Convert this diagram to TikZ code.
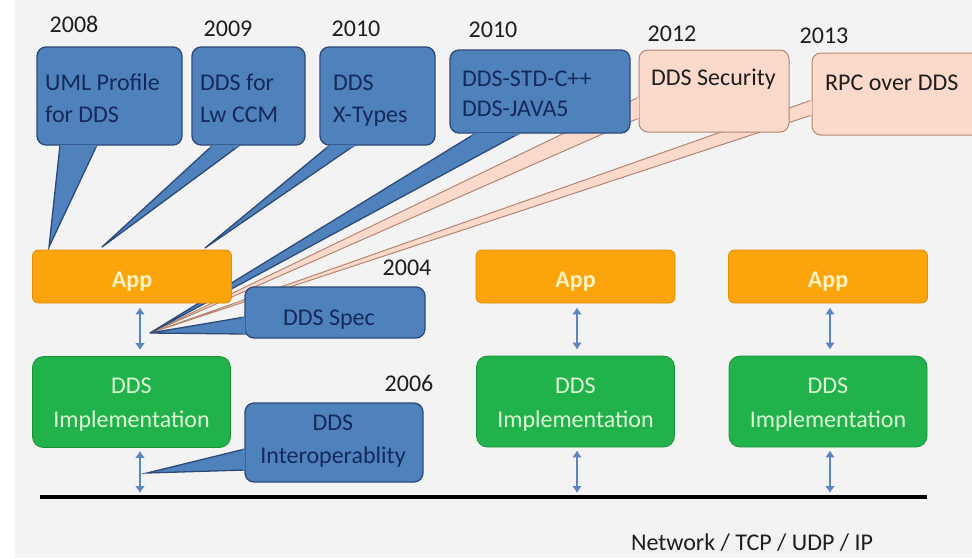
\documentclass[tikz,border=0pt]{standalone}
\usepackage{fontspec}
\setmainfont{Carlito}
\usetikzlibrary{calc,arrows.meta}

\definecolor{cBlue}{HTML}{4F81BD}
\definecolor{cBlueD}{HTML}{2C4A78}
\definecolor{cNavy}{HTML}{15295A}
\definecolor{cPink}{HTML}{FCDACB}
\definecolor{cPinkD}{HTML}{B58570}
\definecolor{cOrange}{HTML}{FBA40C}
\definecolor{cOrangeD}{HTML}{E08C00}
\definecolor{cAppTxt}{HTML}{FFF3C4}
\definecolor{cGreen}{HTML}{22B24C}
\definecolor{cGreenD}{HTML}{179038}
\definecolor{cImplTxt}{HTML}{DDF7D6}
\definecolor{cArrow}{HTML}{5A86C0}
\definecolor{cBg}{HTML}{F3F3F3}
\definecolor{cText}{HTML}{1E1E1E}

% refill a callout pointer over the border of its own box
\newcommand\wedgepatch[5]{%
  \begin{scope}
    \clip ($(#1.south west)+(-2,2)$) rectangle ($(#1.north east)+(2,-2)$);
    \fill[#2] (#3) -- (#4) -- (#5) -- cycle;
  \end{scope}}

\begin{document}
\begin{tikzpicture}[x=1pt,y=-1pt,
  font=\fontsize{24}{29}\selectfont,
  bluebox/.style={draw=cBlueD, fill=cBlue, line width=1.3pt, rounded corners=9pt, inner sep=0pt},
  pinkbox/.style={draw=cPinkD, fill=cPink, line width=1pt, rounded corners=9pt, inner sep=0pt},
  bluewedge/.style={draw=cBlueD, fill=cBlue, line width=1.3pt},
  pinkwedge/.style={draw=cPinkD, fill=cPink, line width=1pt},
  appbox/.style={draw=cOrangeD, fill=cOrange, line width=0.8pt, rounded corners=6pt,
    minimum width=199pt, minimum height=53pt, inner sep=0pt},
  implbox/.style={draw=cGreenD, fill=cGreen, line width=0.8pt, rounded corners=11pt,
    minimum width=198pt, minimum height=91pt, inner sep=0pt},
  navyl/.style={text=cNavy, inner sep=0pt, anchor=base west},
  navyc/.style={text=cNavy, inner sep=0pt, anchor=base},
  year/.style={text=cText, inner sep=0pt, anchor=base},
  apptxt/.style={text=cAppTxt, font=\fontsize{24}{29}\selectfont\bfseries, inner sep=0pt, anchor=base},
  impltxt/.style={text=cImplTxt, inner sep=0pt, anchor=base},
  link/.style={draw=cArrow, line width=2.4pt, {Latex[length=7pt,width=10pt]}-{Latex[length=7pt,width=10pt]}},
]
\useasboundingbox (0,0) rectangle (972,558);
\fill[white] (0,0) rectangle (972,558);
\fill[cBg] (15,0) rectangle (972,558);

% pointer tips
\coordinate (tipA1) at (49,247);
\coordinate (tipA2) at (102,247);
\coordinate (tipA3) at (205,248);
\coordinate (tipS) at (150,333);
\coordinate (tipI) at (147,473);

% pointer bases
\coordinate (w1a) at (60,145);  \coordinate (w1b) at (97,145);
\coordinate (w2a) at (213,145); \coordinate (w2b) at (240,145);
\coordinate (w3a) at (330,145); \coordinate (w3b) at (355,145);
\coordinate (w4a) at (476,133); \coordinate (w4b) at (520,133);
\coordinate (w5a) at (639,97);  \coordinate (w5b) at (639,118);
\coordinate (w6a) at (812,100); \coordinate (w6b) at (812,115);
\coordinate (wsa) at (245,317); \coordinate (wsb) at (245,334);
\coordinate (wia) at (245,449); \coordinate (wib) at (245,470);

% years
\node[year] (y2008) at (74,32) {2008};
\node[year] (y2009) at (228,36) {2009};
\node[year] (y2010a) at (356,36) {2010};
\node[year] (y2010b) at (493,37) {2010};
\node[year] (y2012) at (672,41) {2012};
\node[year] (y2013) at (824,43) {2013};
\node[year] (y2004) at (407,275) {2004};
\node[year] (y2006) at (409,391) {2006};

% RPC over DDS
\path[pinkwedge] (w6a) -- (tipS) -- (w6b) -- cycle;
\node[pinkbox, minimum width=173pt, minimum height=82pt] (b6) at (898.5,94) {};
\wedgepatch{b6}{cPink}{w6a}{tipS}{w6b}
\node[navyl, text=cText] (t6) at (825,90) {RPC over DDS};

% DDS Security
\path[pinkwedge] (w5a) -- (tipS) -- (w5b) -- cycle;
\node[pinkbox, minimum width=150pt, minimum height=82pt] (b5) at (714,91) {};
\wedgepatch{b5}{cPink}{w5a}{tipS}{w5b}
\node[navyl, text=cText] (t5) at (651,85) {DDS Security};

% DDS-STD-C++ / DDS-JAVA5
\path[bluewedge] (w4a) -- (tipS) -- (w4b) -- cycle;
\node[bluebox, minimum width=180pt, minimum height=83pt] (b4) at (540,91.5) {};
\wedgepatch{b4}{cBlue}{w4a}{tipS}{w4b}
\node[navyl] (t4a) at (462,86) {DDS-STD-C++};
\node[navyl] (t4b) at (462,116) {DDS-JAVA5};

% DDS X-Types
\path[bluewedge] (w3a) -- (tipA3) -- (w3b) -- cycle;
\node[bluebox, minimum width=115pt, minimum height=98pt] (b3) at (377.5,96) {};
\wedgepatch{b3}{cBlue}{w3a}{tipA3}{w3b}
\node[navyl] (t3a) at (333,90) {DDS};
\node[navyl] (t3b) at (333,122) {X-Types};

% DDS for Lw CCM
\path[bluewedge] (w2a) -- (tipA2) -- (w2b) -- cycle;
\node[bluebox, minimum width=113pt, minimum height=98pt] (b2) at (248.5,96) {};
\wedgepatch{b2}{cBlue}{w2a}{tipA2}{w2b}
\node[navyl] (t2a) at (200,90) {DDS for};
\node[navyl] (t2b) at (200,122) {Lw CCM};

% UML Profile for DDS
\path[bluewedge] (w1a) -- (tipA1) -- (w1b) -- cycle;
\node[bluebox, minimum width=145pt, minimum height=98pt] (b1) at (109.5,96) {};
\wedgepatch{b1}{cBlue}{w1a}{tipA1}{w1b}
\node[navyl] (t1a) at (45,90) {UML Profile};
\node[navyl] (t1b) at (45,122) {for DDS};

% application boxes
\node[appbox] (app1) at (132,276.5) {};
\node[appbox] (app2) at (575.5,276.5) {};
\node[appbox] (app3) at (828,276.5) {};
\node[apptxt] (app1t) at (132,287) {App};
\node[apptxt] (app2t) at (575.5,287) {App};
\node[apptxt] (app3t) at (828,287) {App};

% DDS Spec
\path[bluewedge] (wsa) -- (tipS) -- (wsb) -- cycle;
\node[bluebox, minimum width=180pt, minimum height=51pt] (spec) at (335,312.5) {};
\wedgepatch{spec}{cBlue}{wsa}{tipS}{wsb}
\node[navyc] (spect) at (329,325) {DDS Spec};

% DDS Interoperablity
\path[bluewedge] (wia) -- (tipI) -- (wib) -- cycle;
\node[bluebox, minimum width=178pt, minimum height=79pt] (iop) at (334,442.5) {};
\wedgepatch{iop}{cBlue}{wia}{tipI}{wib}
\node[navyc] (iopa) at (333,430) {DDS};
\node[navyc] (iopb) at (333,463) {Interoperablity};

% DDS implementations
\node[implbox] (impl1) at (131.5,402) {};
\node[implbox] (impl2) at (575.5,401.5) {};
\node[implbox] (impl3) at (828,401.5) {};
\foreach \n/\x in {1/131.5, 2/575.5, 3/828} {
  \node[impltxt] (impl\n a) at (\x,393) {DDS};
  \node[impltxt] (impl\n b) at (\x,427) {Implementation};
}

% network bus
\coordinate (netL) at (40,497);
\coordinate (netR) at (927,497);
\draw[line width=3.6pt, black] (netL) -- (netR);
\node[year] (net) at (752,550) {Network / TCP / UDP / IP};

% vertical links
\coordinate (c1) at (140,0);
\coordinate (c2) at (577,0);
\coordinate (c3) at (830,0);
\foreach \i in {1,2,3} {
  \draw[link] ($(app\i.south -| c\i)+(0,4)$) -- ($(impl\i.north -| c\i)+(0,-6)$);
  \draw[link] ($(impl\i.south -| c\i)+(0,3)$) -- ($(netL -| c\i)+(0,-4)$);
}
\end{tikzpicture}
\end{document}
